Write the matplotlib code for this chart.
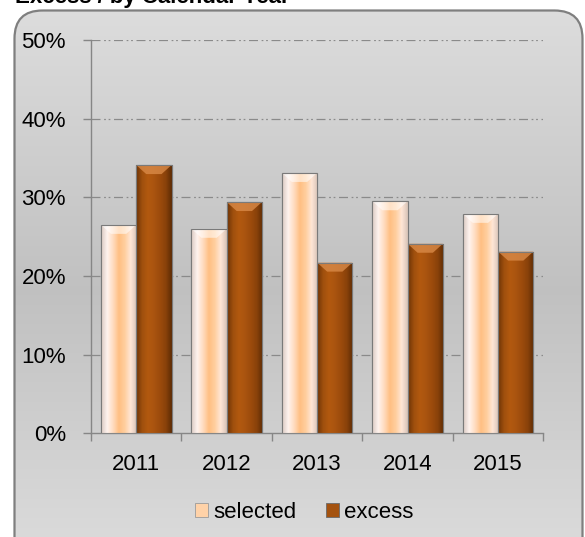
import matplotlib
matplotlib.use('Agg')
import matplotlib.pyplot as plt
import numpy as np
from matplotlib.colors import LinearSegmentedColormap
from matplotlib.patches import FancyBboxPatch, Polygon, Patch
from matplotlib.font_manager import fontManager

# ---- data ----
years = ['2011', '2012', '2013', '2014', '2015']
selected = [26.5, 26.0, 33.1, 29.5, 27.9]
excess = [34.1, 29.4, 21.7, 24.1, 23.1]
yticks = [0, 10, 20, 30, 40, 50]
ytick_labels = ['0%', '10%', '20%', '30%', '40%', '50%']
series_names = ['selected', 'excess']
title_text = 'Excess / by Calendar Year'

names = {f.name for f in fontManager.ttflist}
FONT = 'Liberation Sans Narrow' if 'Liberation Sans Narrow' in names else 'Liberation Sans'
FS = 18 if FONT == 'Liberation Sans Narrow' else 16
plt.rcParams['font.family'] = [FONT, 'DejaVu Sans']

W, H = 585, 537
fig = plt.figure(figsize=(W / 100, H / 100), dpi=100)
fig.patch.set_facecolor('white')

# ---- background with rounded border ----
bg = fig.add_axes([0, 0, 1, 1], zorder=0)
bg.set_xlim(0, W)
bg.set_ylim(H, 0)
bg.axis('off')
yy = np.arange(H)
lv = np.interp(yy, [0, 10, 290, 537], [0.865, 0.865, 0.755, 0.855])
img = np.dstack([lv, lv, lv]).reshape(H, 1, 3)
im = bg.imshow(img, extent=[0, W, H, 0], aspect='auto', interpolation='bilinear')
frame = FancyBboxPatch((14.5, 10.5), 568, 560, boxstyle='round,pad=0,rounding_size=28',
                       facecolor='none', edgecolor='#7f7f7f', lw=1.6)
bg.add_patch(frame)
im.set_clip_path(frame)

fig.text(15 / W, 1 - 2.5 / H, title_text, fontsize=FS, fontweight='bold',
         ha='left', va='baseline', color='black')

# ---- main axes ----
ax = fig.add_axes([91 / W, 1 - 433.3 / H, (543.3 - 91) / W, (433.3 - 40) / H], zorder=1)
ax.set_facecolor('none')
x = np.arange(len(years))
bw = 0.39
sel_colors = ['#d9c9c2', '#fff3ee', '#ffdcc0', '#ffbf82', '#ffcf9f', '#ffe6d6', '#d8c4b8']
exc_colors = ['#6e3406', '#a0500e', '#b2590f', '#aa5410', '#9c4b0c', '#8a420a', '#5e2c05']
cm_sel = LinearSegmentedColormap.from_list('sel', sel_colors)
cm_exc = LinearSegmentedColormap.from_list('exc', exc_colors)

bars_s = ax.bar(x - bw / 2, selected, bw, color='#ffc890', edgecolor='#8a8a8a', lw=0.8, zorder=3)
bars_e = ax.bar(x + bw / 2, excess, bw, color='#a4520f', edgecolor='#6a6a6a', lw=0.8, zorder=3)

grad = np.linspace(0, 1, 64).reshape(1, -1)
px_x = 1 / 90.46
px_y = 50 / 393.3
for bars, cm, bev, al in [(bars_s, cm_sel, '#ffffff', 0.55), (bars_e, cm_exc, '#d98a48', 0.8)]:
    for b in bars:
        x0, w, h = b.get_x(), b.get_width(), b.get_height()
        gi = ax.imshow(grad, cmap=cm, extent=[x0, x0 + w, 0, h], aspect='auto',
                       interpolation='bilinear', zorder=3.5)
        gi.set_clip_path(b)
        bh = 9 * px_y
        bi = 10 * px_x
        poly = Polygon([(x0, h), (x0 + w, h), (x0 + w - bi, h - bh), (x0 + bi, h - bh)],
                       closed=True, facecolor=bev, edgecolor='none', alpha=al, zorder=3.6)
        ax.add_patch(poly)
        ax.add_patch(plt.Rectangle((x0, 0), w, h, facecolor='none',
                                   edgecolor='#7a7a7a', lw=0.8, zorder=3.7))

ax.set_xlim(-0.5, len(years) - 0.5)
ax.set_ylim(0, 50)

# grid
for v in yticks[1:]:
    ax.axhline(v, color='#8a8a8a', lw=0.9, zorder=1,
               linestyle=(0, (7.2, 2.9, 1.4, 2.2, 1.4, 2.9)))

ax.set_yticks(yticks)
ax.set_yticklabels(ytick_labels)
ax.set_xticks(np.arange(-0.5, len(years), 1))
ax.set_xticklabels([])
ax.set_xticks(x, minor=True)
ax.set_xticklabels(years, minor=True)
ax.tick_params(axis='x', which='minor', length=0, pad=15, labelsize=FS)
ax.tick_params(axis='x', which='major', length=6, width=1, color='#868686', direction='out')
ax.tick_params(axis='y', length=6, width=1, color='#868686', direction='out', pad=12, labelsize=FS)
for s in ['top', 'right']:
    ax.spines[s].set_visible(False)
for s in ['left', 'bottom']:
    ax.spines[s].set_color('#868686')
    ax.spines[s].set_linewidth(1.0)

handles = [Patch(facecolor='#ffd2a8', edgecolor='#9a9a9a', lw=0.6),
           Patch(facecolor='#a4520f', edgecolor='#6a6a6a', lw=0.6)]
fig.legend(handles, series_names, loc='center', bbox_to_anchor=(0.52, 1 - 512 / H),
           ncol=2, frameon=False, fontsize=FS, handlelength=0.6, handleheight=0.6,
           handletextpad=0.25, columnspacing=1.3)

fig.savefig('out.png', dpi=100)
